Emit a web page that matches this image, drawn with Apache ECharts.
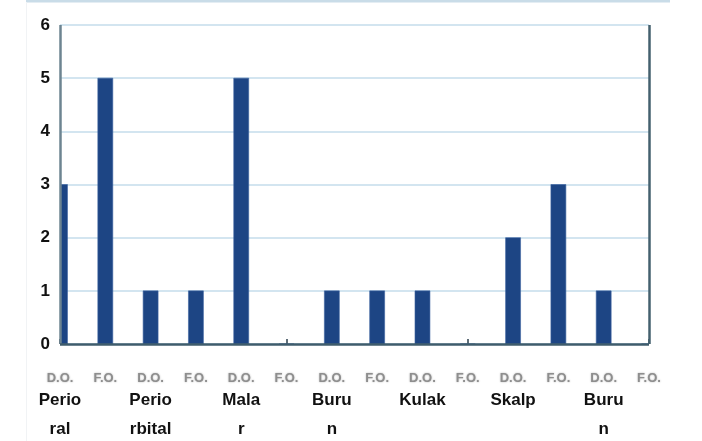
<!DOCTYPE html>
<html>
<head>
<meta charset="utf-8">
<script src="https://cdn.jsdelivr.net/npm/echarts@6/dist/echarts.min.js"></script>
<style>
html,body{margin:0;padding:0;background:#fff;}
#chart{width:702px;height:441px;}
</style>
</head>
<body>
<div id="chart"></div>
<script>
var groups = ['Perio\nral', 'Perio\nrbital', 'Mala\nr', 'Buru\nn', 'Kulak', 'Skalp', 'Buru\nn'];
var subLabels = ['D.O.', 'F.O.'];
var doValues = [3, 1, 5, 1, 1, 2, 1];
var foValues = [5, 1, 0, 1, 0, 3, 0];
var yTicks = [0, 1, 2, 3, 4, 5, 6];

var categories = [];
var values = [];
groups.forEach(function (g, i) {
  categories.push(i + '|' + subLabels[0]);
  values.push([categories.length - 1, doValues[i]]);
  categories.push(i + '|' + subLabels[1]);
  values.push([categories.length - 1, foValues[i]]);
});

var FONT = 'Liberation Sans, Arial, sans-serif';
var chart = echarts.init(document.getElementById('chart'));
chart.setOption({
  animation: false,
  backgroundColor: '#ffffff',
  grid: { left: 60, right: 53, top: 25, bottom: 97 },
  graphic: [
    { type: 'rect', z: -1, shape: { x: 26, y: 0, width: 644, height: 2.5 }, style: { fill: '#c9dce8' }, silent: true },
    { type: 'rect', z: -1, shape: { x: 26, y: 2, width: 1, height: 439 }, style: { fill: '#f1f3f5' }, silent: true }
  ],
  xAxis: {
    type: 'category',
    data: categories,
    boundaryGap: false,
    axisLine: { show: false },
    axisTick: { show: true, inside: true, length: 5, alignWithLabel: true, lineStyle: { color: '#2b3f4c', width: 1.5 } },
    splitLine: { show: false },
    axisLabel: {
      interval: 0,
      margin: 26,
      formatter: function (v) {
        var parts = v.split('|');
        var gi = +parts[0];
        var sub = parts[1];
        if (sub === subLabels[0]) {
          var lines = groups[gi].split('\n').map(function (l) { return '{b|' + l + '}'; });
          return '{s|' + sub + '}\n' + lines.join('\n');
        }
        return '{s|' + sub + '}';
      },
      rich: {
        s: { fontFamily: FONT, fontSize: 13, fontWeight: 'bold', color: '#8e8e8e', lineHeight: 16, textShadowColor: 'rgba(0,0,0,0.3)', textShadowBlur: 2 },
        b: { fontFamily: FONT, fontSize: 17, fontWeight: 'bold', color: '#111', lineHeight: 29 }
      }
    }
  },
  yAxis: [
    {
      type: 'value',
      min: 0,
      max: 6,
      interval: 1,
      position: 'left',
      axisLine: { show: false },
      axisTick: { show: false },
      splitLine: { show: true, lineStyle: { color: '#d3e5f0', width: 2 } },
      axisLabel: {
        margin: 10,
        fontFamily: FONT,
        fontSize: 17,
        fontWeight: 'bold',
        color: '#111',
        formatter: function (v) { return yTicks.indexOf(v) >= 0 ? String(v) : ''; }
      }
    }
  ],
  series: [
    {
      type: 'custom',
      clip: true,
      data: values,
      encode: { x: 0, y: 1 },
      renderItem: function (params, api) {
        var top = api.coord([api.value(0), api.value(1)]);
        var base = api.coord([api.value(0), 0]);
        var w = api.size([1, 0])[0] * 0.33;
        return {
          type: 'rect',
          shape: { x: top[0] - w / 2, y: top[1], width: w, height: base[1] - top[1] },
          style: { fill: '#1d4584', stroke: '#3a62a0', lineWidth: 0.6 }
        };
      },
      z: 2
    },
    {
      type: 'line',
      data: [],
      z: 5,
      markLine: {
        silent: true,
        symbol: 'none',
        label: { show: false },
        data: [
          [{ xAxis: 0, yAxis: 0, lineStyle: { color: '#6d8491', width: 2.5 } }, { xAxis: 0, yAxis: 6 }],
          [{ xAxis: categories.length - 1, yAxis: 0, lineStyle: { color: '#44606e', width: 2.5 } }, { xAxis: categories.length - 1, yAxis: 6 }],
          [{ xAxis: 0, yAxis: 0, lineStyle: { color: '#3f5c6c', width: 2.5 } }, { xAxis: categories.length - 1, yAxis: 0 }]
        ],
        lineStyle: { type: 'solid' }
      }
    }
  ]
});
</script>
</body>
</html>
